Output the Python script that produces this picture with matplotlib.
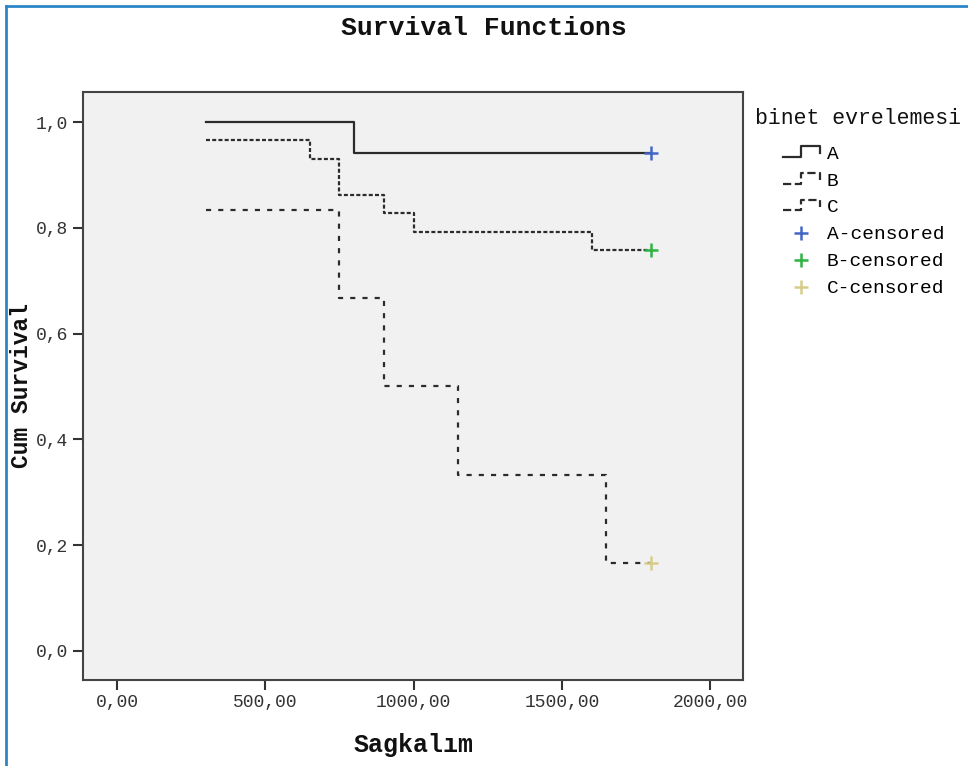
import matplotlib
matplotlib.use("Agg")
import matplotlib.pyplot as plt
from matplotlib.lines import Line2D
from matplotlib.legend_handler import HandlerBase
from matplotlib.ticker import FuncFormatter

# Kaplan-Meier steps
times_a = [300, 800, 1800]
surv_a = [1.0, 0.941, 0.941]
times_b = [300, 650, 750, 900, 1000, 1600, 1800]
surv_b = [0.966, 0.931, 0.862, 0.828, 0.793, 0.759, 0.759]
times_c = [300, 750, 900, 1150, 1650, 1800]
surv_c = [0.833, 0.667, 0.5, 0.333, 0.167, 0.167]
groups = ['A', 'B', 'C']
cens_colors = ['#4466c4', '#2fb344', '#d8cc8c']
xticks = [0, 500, 1000, 1500, 2000]
yticks = [0.0, 0.2, 0.4, 0.6, 0.8, 1.0]

FONT = 'Liberation Mono'
LINE = '#2b2b2b'


class HandlerStep(HandlerBase):
    # little step glyph like the spss legend
    def create_artists(self, legend, orig, xd, yd, w, h, fontsize, trans):
        xs = [-xd, -xd + 0.5*w, -xd + 0.5*w, -xd + w, -xd + w]
        ys = [-yd + 0.15*h, -yd + 0.15*h, -yd + 0.95*h, -yd + 0.95*h, -yd + 0.4*h]
        ln = Line2D(xs, ys, color=orig.get_color(), lw=orig.get_linewidth(),
                    linestyle=orig.get_linestyle())
        ln.set_transform(trans)
        return [ln]


fig = plt.figure(figsize=(9.68, 7.66), dpi=100)
ax = fig.add_axes([0.0857, 0.1123, 0.6819, 0.7677])
ax.set_facecolor('#f1f1f1')

styles = ['-', (0, (1.8, 1.0)), (0, (2.3, 3.2))]
handles = []
for t, s, ls, g in zip([times_a, times_b, times_c], [surv_a, surv_b, surv_c], styles, groups):
    h, = ax.step(t, s, where='post', color=LINE, lw=1.6, linestyle=ls, label=g)
    handles.append(h)
cens = []
for t, s, c, g in zip([times_a, times_b, times_c], [surv_a, surv_b, surv_c], cens_colors, groups):
    m, = ax.plot(t[-1], s[-1], '+', color=c, ms=10, mew=1.8, label=g + '-censored')
    cens.append(m)

ax.set_xlim(-115, 2111)
ax.set_ylim(-0.055, 1.057)
ax.set_xticks(xticks)
ax.set_yticks(yticks)
ax.xaxis.set_major_formatter(FuncFormatter(lambda v, p: ('%.2f' % v).replace('.', ',')))
ax.yaxis.set_major_formatter(FuncFormatter(lambda v, p: ('%.1f' % v).replace('.', ',')))
ax.tick_params(direction='out', length=7, width=1.5, color='#333333',
               labelsize=13, labelcolor='#333333')
ax.tick_params(axis='x', pad=3)
ax.tick_params(axis='y', pad=4)
for lab in ax.get_xticklabels() + ax.get_yticklabels():
    lab.set_family(FONT)
for sp in ax.spines.values():
    sp.set_color('#444444')
    sp.set_linewidth(1.5)

fig.text(0.5, 1 - 28/766, 'Survival Functions', ha='center', va='center',
         family=FONT, fontsize=19, fontweight='bold', color='#111111')
fig.text(414/968, 1 - 745/766, 'Sagkalım', ha='center', va='center',
         family=FONT, fontsize=18, fontweight='bold', color='#111111')
fig.text(22/968, 1 - 385/766, 'Cum Survival', ha='center', va='center', rotation=90,
         family=FONT, fontsize=16.5, fontweight='bold', color='#111111')

# legend title sits further left than the entries
fig.text(755/968, 1 - 118/766, 'binet evrelemesi', ha='left', va='center',
         family=FONT, fontsize=15.5, color='#111111')
fig.legend(handles + cens, [h.get_label() for h in handles + cens],
           handler_map={h: HandlerStep() for h in handles},
           loc='upper left', bbox_to_anchor=(783/968, 1 - 145/766), frameon=False,
           prop={'family': FONT, 'size': 14}, handlelength=1.9,
           handletextpad=0.35, labelspacing=0.48, borderpad=0, borderaxespad=0)

# blue frame of the original figure box
fig.add_artist(Line2D([6/968, 6/968], [0, 1 - 6/766], color='#2b86c8', lw=2))
fig.add_artist(Line2D([6/968, 1], [1 - 6/766, 1 - 6/766], color='#2b86c8', lw=2))

fig.savefig('out.png', dpi=100, facecolor='white')
